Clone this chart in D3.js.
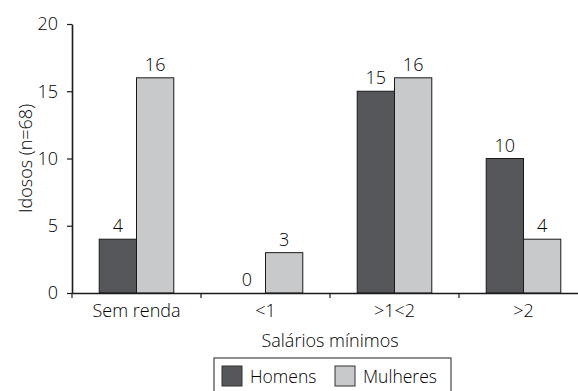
<!DOCTYPE html>
<html>
<head>
<meta charset="utf-8">
<script src="https://cdn.jsdelivr.net/npm/d3@7"></script>
<style>
  body { margin: 0; background: #fff; }
  svg { display: block; font-family: "Open Sans", sans-serif; font-weight: 300; }
</style>
</head>
<body>
<div id="chart"></div>
<script>
// data
const categories = ["Sem renda", "<1", ">1<2", ">2"];
const seriesNames = ["Homens", "Mulheres"];
const homens = [4, 0, 15, 10];
const mulheres = [16, 3, 16, 4];
const yTicks = [0, 5, 10, 15, 20];
const colors = ["#55575a", "#c8c9cb"];

const width = 578, height = 391;
const plotLeft = 72, plotRight = 588, plotTop = 24, plotBottom = 293;
const fontSize = 18;
const ink = "#000";

const svg = d3.select("#chart")
  .append("svg")
  .attr("width", width)
  .attr("height", height);

const x0 = d3.scaleBand().domain(categories).range([plotLeft, plotRight]).padding(0);
const x1 = d3.scaleBand().domain(seriesNames).range([0, x0.bandwidth()])
  .paddingInner(0).paddingOuter(0.73);
const y = d3.scaleLinear().domain([0, 20]).range([plotBottom, plotTop]);

// rows for bars
const rows = [];
categories.forEach((c, i) => {
  rows.push({cat: c, s: "Homens", v: homens[i], col: colors[0]});
  rows.push({cat: c, s: "Mulheres", v: mulheres[i], col: colors[1]});
});

// bars
svg.selectAll("rect.bar")
  .data(rows)
  .enter()
  .append("rect")
  .attr("class", "bar")
  .attr("x", d => x0(d.cat) + x1(d.s))
  .attr("y", d => y(d.v))
  .attr("width", x1.bandwidth())
  .attr("height", d => plotBottom - y(d.v))
  .attr("fill", d => d.col)
  .attr("stroke", d => d.v > 0 ? "#1a1a1a" : "none")
  .attr("stroke-width", 1);

// value labels
svg.selectAll("text.val")
  .data(rows)
  .enter()
  .append("text")
  .attr("class", "val")
  .attr("x", d => x0(d.cat) + x1(d.s) + x1.bandwidth() / 2)
  .attr("y", d => y(d.v) - 7)
  .attr("text-anchor", "middle")
  .attr("font-size", fontSize)
  .attr("fill", ink)
  .text(d => d.v);

// y axis
const yAxis = svg.append("g")
  .attr("transform", "translate(" + plotLeft + ",0)")
  .call(d3.axisLeft(y).tickValues(yTicks).tickSize(5).tickPadding(9).tickSizeOuter(0));
yAxis.select(".domain").attr("stroke", "#1a1a1a").attr("stroke-width", 1.6);
yAxis.selectAll(".tick line").attr("stroke", "#1a1a1a").attr("stroke-width", 1.2);
yAxis.selectAll(".tick text")
  .attr("font-size", fontSize)
  .attr("font-family", "Open Sans, sans-serif")
  .attr("fill", ink);

// x axis: labels centred in bands, ticks at band edges
const xAxis = svg.append("g")
  .attr("transform", "translate(0," + plotBottom + ")")
  .call(d3.axisBottom(x0).tickSize(0).tickPadding(11).tickSizeOuter(0));
xAxis.select(".domain").attr("stroke", "#1a1a1a").attr("stroke-width", 1.6);
xAxis.selectAll(".tick text")
  .attr("font-size", fontSize)
  .attr("font-family", "Open Sans, sans-serif")
  .attr("fill", ink);

svg.selectAll("line.xtick")
  .data(categories)
  .enter()
  .append("line")
  .attr("class", "xtick")
  .attr("x1", d => x0(d))
  .attr("x2", d => x0(d))
  .attr("y1", plotBottom)
  .attr("y2", plotBottom + 5)
  .attr("stroke", "#1a1a1a")
  .attr("stroke-width", 1.2);

// axis titles
svg.append("text")
  .attr("transform", "translate(32," + (plotTop + plotBottom) / 2 + ") rotate(-90)")
  .attr("text-anchor", "middle")
  .attr("font-size", fontSize)
  .attr("fill", ink)
  .text("Idosos (n=68)");

svg.append("text")
  .attr("x", (plotLeft + plotRight) / 2)
  .attr("y", 347)
  .attr("text-anchor", "middle")
  .attr("font-size", fontSize)
  .attr("fill", ink)
  .text("Salários mínimos");

// legend
const legend = svg.append("g").attr("transform", "translate(214,358)");
legend.append("rect")
  .attr("width", 237)
  .attr("height", 40)
  .attr("fill", "none")
  .attr("stroke", "#444")
  .attr("stroke-width", 1.2);

const itemX = [8, 121];
const items = legend.selectAll("g.item")
  .data(seriesNames)
  .enter()
  .append("g")
  .attr("class", "item")
  .attr("transform", (d, i) => "translate(" + itemX[i] + ",8)");
items.append("rect")
  .attr("width", 20)
  .attr("height", 20)
  .attr("fill", (d, i) => colors[i])
  .attr("stroke", "#333")
  .attr("stroke-width", 1);
items.append("text")
  .attr("x", 28)
  .attr("y", 17)
  .attr("font-size", 17.5)
  .attr("fill", ink)
  .text(d => d);
</script>
</body>
</html>
